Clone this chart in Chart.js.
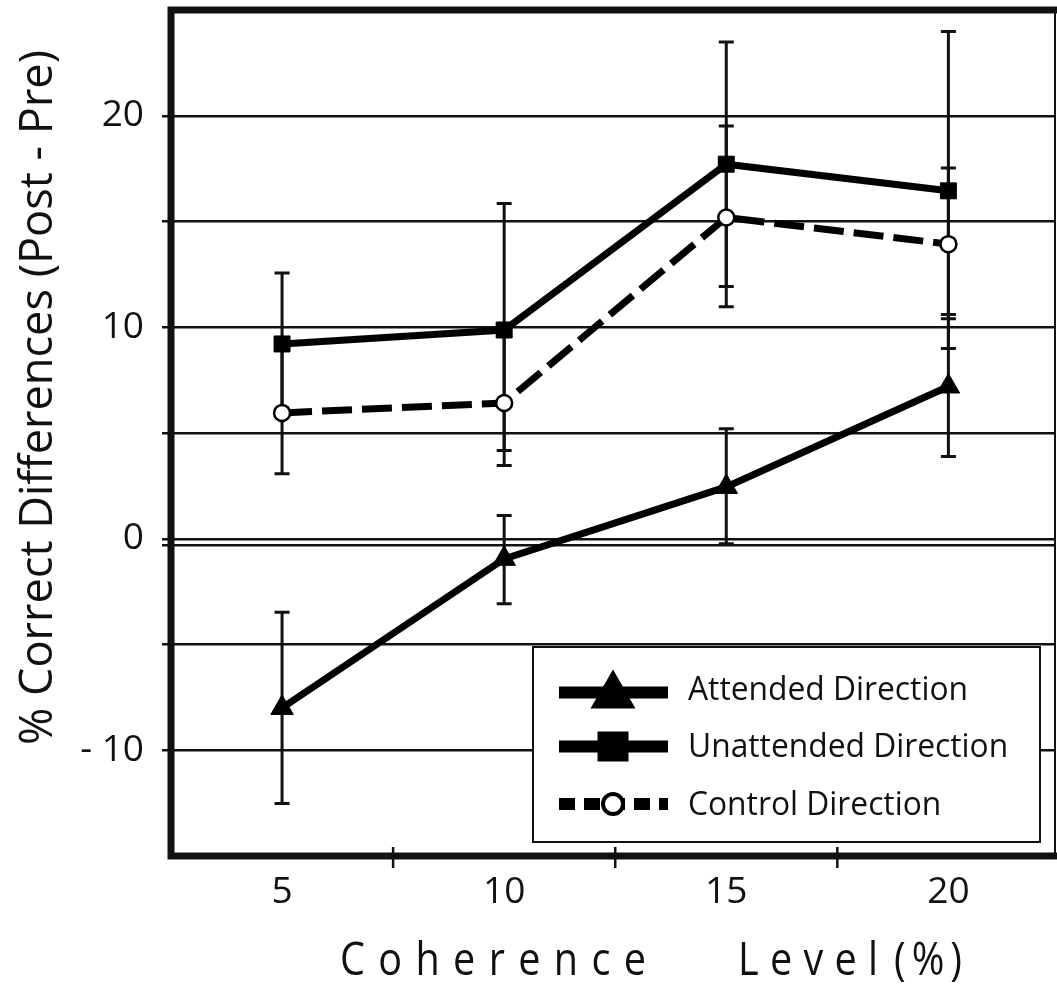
<!DOCTYPE html>
<html><head><meta charset="utf-8">
<script src="https://cdn.jsdelivr.net/npm/chart.js@4"></script>
<style>html,body{margin:0;padding:0;background:#fff}#wrap{width:1057px;height:985px;position:relative}</style>
</head><body><div id="wrap"><canvas id="c"></canvas></div>
<script>
// ---- data ----
const coherence = [5, 10, 15, 20];
const attended = [-8.0, -0.95, 2.45, 7.2];
const attendedLow = [-12.52, -3.07, -0.24, 3.89];
const attendedHigh = [-3.47, 1.1, 5.2, 10.6];
const unattended = [9.21, 9.87, 17.71, 16.45];
const unattendedLow = [5.9, 4.17, 11.93, 9.0];
const unattendedHigh = [12.56, 15.85, 23.49, 23.98];
const control = [5.95, 6.42, 15.19, 13.93];
const controlLow = [3.07, 3.46, 10.97, 10.4];
const controlHigh = [9.0, 9.7, 19.52, 17.53];
const yTickValues = [-15, -10, -5, 0, 5, 10, 15, 20, 25];
const yLabelValues = [-10, 0, 10, 20];
const extraGridValues = [-0.3];
const xTickValues = [5, 10, 15, 20];
const xMinorTicks = [7.5, 12.5, 17.5];
const seriesNames = ['Attended Direction', 'Unattended Direction', 'Control Direction'];
const xTitleWords = ['Coherence', 'Level', '(%)'];
const yTitle = '% Correct Differences (Post - Pre)';

const INK = '#111';
const FONT = "'Open Sans', 'Noto Sans', sans-serif";
Chart.defaults.font.family = FONT;
Chart.defaults.color = INK;

function pts(ys) { return coherence.map((x, i) => ({ x: x, y: ys[i] })); }
const yMin = Math.min(...yTickValues), yMax = Math.max(...yTickValues);
const noPad = function () { return { left: 0, top: 0, right: 0, bottom: 0 }; };

const errorBars = {
  id: 'errorBars',
  beforeDatasetsDraw(chart) {
    const ctx = chart.ctx, xs = chart.scales.x, ys = chart.scales.y;
    chart.data.datasets.forEach((ds) => {
      if (!ds.errLow) return;
      ctx.save();
      ctx.strokeStyle = INK; ctx.lineWidth = 3; ctx.lineCap = 'butt';
      coherence.forEach((c, i) => {
        const x = xs.getPixelForValue(c);
        const yl = ys.getPixelForValue(ds.errLow[i]);
        const yh = ys.getPixelForValue(ds.errHigh[i]);
        ctx.beginPath();
        ctx.moveTo(x, yl); ctx.lineTo(x, yh);
        ctx.moveTo(x - 7.5, yl); ctx.lineTo(x + 7.5, yl);
        ctx.moveTo(x - 7.5, yh); ctx.lineTo(x + 7.5, yh);
        ctx.stroke();
      });
      ctx.restore();
    });
  }
};

const legendBox = {
  id: 'legendBox',
  afterDatasetsDraw(chart) {
    const ctx = chart.ctx;
    const L = 533, T = 647, R = 1040, B = 842;
    ctx.save();
    ctx.fillStyle = '#fff';
    ctx.fillRect(L, T, R - L, B - T);
    ctx.strokeStyle = INK; ctx.lineWidth = 2;
    ctx.strokeRect(L, T, R - L, B - T);
    const rows = [692.5, 746.5, 804];
    const x0 = 559, x1 = 668, mx = 613;
    ctx.strokeStyle = '#000'; ctx.fillStyle = '#000';
    rows.forEach((y, i) => {
      ctx.lineWidth = 12;
      ctx.setLineDash(i === 2 ? [16, 9] : []);
      ctx.beginPath(); ctx.moveTo(x0, y); ctx.lineTo(x1, y); ctx.stroke();
      ctx.setLineDash([]);
      if (i === 0) {
        const r = 26, cy = y + 3;
        ctx.beginPath();
        ctx.moveTo(mx, cy - r);
        ctx.lineTo(mx + r * Math.sin(Math.PI / 3), cy + r / 2);
        ctx.lineTo(mx - r * Math.sin(Math.PI / 3), cy + r / 2);
        ctx.closePath(); ctx.fill();
      } else if (i === 1) {
        ctx.fillRect(mx - 15.5, y - 15, 31, 30);
      } else {
        ctx.beginPath(); ctx.arc(mx, y, 10, 0, Math.PI * 2);
        ctx.fillStyle = '#fff'; ctx.fill();
        ctx.lineWidth = 4; ctx.strokeStyle = '#000'; ctx.stroke();
        ctx.fillStyle = '#000';
      }
    });
    ctx.font = '33px ' + FONT;
    ctx.fillStyle = INK; ctx.textAlign = 'left'; ctx.textBaseline = 'alphabetic';
    const sx = 280 / ctx.measureText(seriesNames[0]).width;
    const baselines = [700, 757, 815];
    seriesNames.forEach((n, i) => {
      ctx.save(); ctx.translate(688, baselines[i]); ctx.scale(sx, 1);
      ctx.fillText(n, 0, 0); ctx.restore();
    });
    ctx.restore();
  }
};

function drawSpaced(ctx, text, left, right, baseline, sx) {
  const chars = [...text];
  const widths = chars.map(ch => ctx.measureText(ch).width * sx);
  const total = widths.reduce((a, b) => a + b, 0);
  const gap = chars.length > 1 ? (right - left - total) / (chars.length - 1) : 0;
  let x = left;
  chars.forEach((ch, i) => {
    ctx.save(); ctx.translate(x, baseline); ctx.scale(sx, 1);
    ctx.fillText(ch, 0, 0); ctx.restore();
    x += widths[i] + gap;
  });
}

const frameAndTitles = {
  id: 'frameAndTitles',
  afterDraw(chart) {
    const ctx = chart.ctx, ca = chart.chartArea, xs = chart.scales.x;
    ctx.save();
    ctx.strokeStyle = INK;
    ctx.lineWidth = 2;
    ctx.beginPath(); ctx.moveTo(ca.right, ca.top); ctx.lineTo(ca.right, ca.bottom); ctx.stroke();
    ctx.lineWidth = 7; ctx.lineJoin = 'miter';
    ctx.beginPath();
    ctx.moveTo(chart.width, ca.top); ctx.lineTo(ca.left, ca.top);
    ctx.lineTo(ca.left, ca.bottom); ctx.lineTo(chart.width, ca.bottom);
    ctx.stroke();
    ctx.lineWidth = 2.5;
    xMinorTicks.forEach(v => {
      const x = xs.getPixelForValue(v);
      ctx.beginPath(); ctx.moveTo(x, ca.bottom - 9); ctx.lineTo(x, ca.bottom + 12); ctx.stroke();
    });
    ctx.fillStyle = INK; ctx.textBaseline = 'alphabetic'; ctx.textAlign = 'left';
    ctx.font = '46px ' + FONT;
    drawSpaced(ctx, xTitleWords[0], 340, 646, 975, 0.86);
    drawSpaced(ctx, xTitleWords[1], 738, 878, 975, 0.86);
    drawSpaced(ctx, xTitleWords[2], 894, 962, 975, 0.86);
    ctx.font = '46px ' + FONT;
    const w = ctx.measureText(yTitle).width;
    ctx.save();
    ctx.translate(52, 397.5); ctx.rotate(-Math.PI / 2);
    ctx.scale(695 / w, 1);
    ctx.textAlign = 'center';
    ctx.fillText(yTitle, 0, 0);
    ctx.restore();
    ctx.restore();
  }
};

new Chart(document.getElementById('c'), {
  type: 'line',
  data: {
    datasets: [
      {
        label: seriesNames[0], data: pts(attended), errLow: attendedLow, errHigh: attendedHigh,
        borderColor: '#000', borderWidth: 7, pointStyle: 'triangle', pointRadius: 13,
        pointBackgroundColor: '#000', pointBorderColor: '#000', pointBorderWidth: 1, tension: 0
      },
      {
        label: seriesNames[1], data: pts(unattended), errLow: unattendedLow, errHigh: unattendedHigh,
        borderColor: '#000', borderWidth: 7, pointStyle: 'rect', pointRadius: 11.3,
        pointBackgroundColor: '#000', pointBorderColor: '#000', pointBorderWidth: 1, tension: 0
      },
      {
        label: seriesNames[2], data: pts(control), errLow: controlLow, errHigh: controlHigh,
        borderColor: '#000', borderWidth: 7, borderDash: [30, 10], pointStyle: 'circle', pointRadius: 8,
        pointBackgroundColor: '#fff', pointBorderColor: '#000', pointBorderWidth: 2.5, tension: 0
      }
    ]
  },
  options: {
    responsive: true, maintainAspectRatio: false, animation: false,
    layout: { autoPadding: false, padding: { top: 10, right: 2, left: 0, bottom: 0 } },
    plugins: { legend: { display: false }, tooltip: { enabled: false } },
    scales: {
      x: {
        type: 'linear', min: 2.5, max: 22.4,
        afterBuildTicks: s => { s.ticks = xTickValues.map(v => ({ value: v })); },
        afterFit: s => { s.height = 129; s.paddingLeft = 0; s.paddingRight = 0; s.getPadding = noPad; },
        ticks: { font: { size: 37 }, color: INK, padding: 14, autoSkip: false, maxRotation: 0 },
        grid: { display: false, drawTicks: false },
        border: { display: false }
      },
      y: {
        type: 'linear', min: yMin, max: yMax,
        afterBuildTicks: s => { s.ticks = yTickValues.concat(extraGridValues).map(v => ({ value: v })); },
        afterFit: s => { s.width = 171; s.paddingTop = 0; s.paddingBottom = 0; s.getPadding = noPad; },
        ticks: {
          autoSkip: false, font: { size: 37 }, color: INK, padding: 18,
          callback: v => yLabelValues.includes(v) ? (v < 0 ? '- ' + Math.abs(v) : String(v)) : ''
        },
        grid: {
          color: INK, lineWidth: 2.5, tickLength: 9, tickWidth: 2.5, drawTicks: true,
          tickColor: c => (c.tick && (c.tick.value === yMin || c.tick.value === yMax)) ? 'rgba(0,0,0,0)' : INK
        },
        border: { display: false }
      }
    }
  },
  plugins: [errorBars, legendBox, frameAndTitles]
});
</script>
</body></html>
